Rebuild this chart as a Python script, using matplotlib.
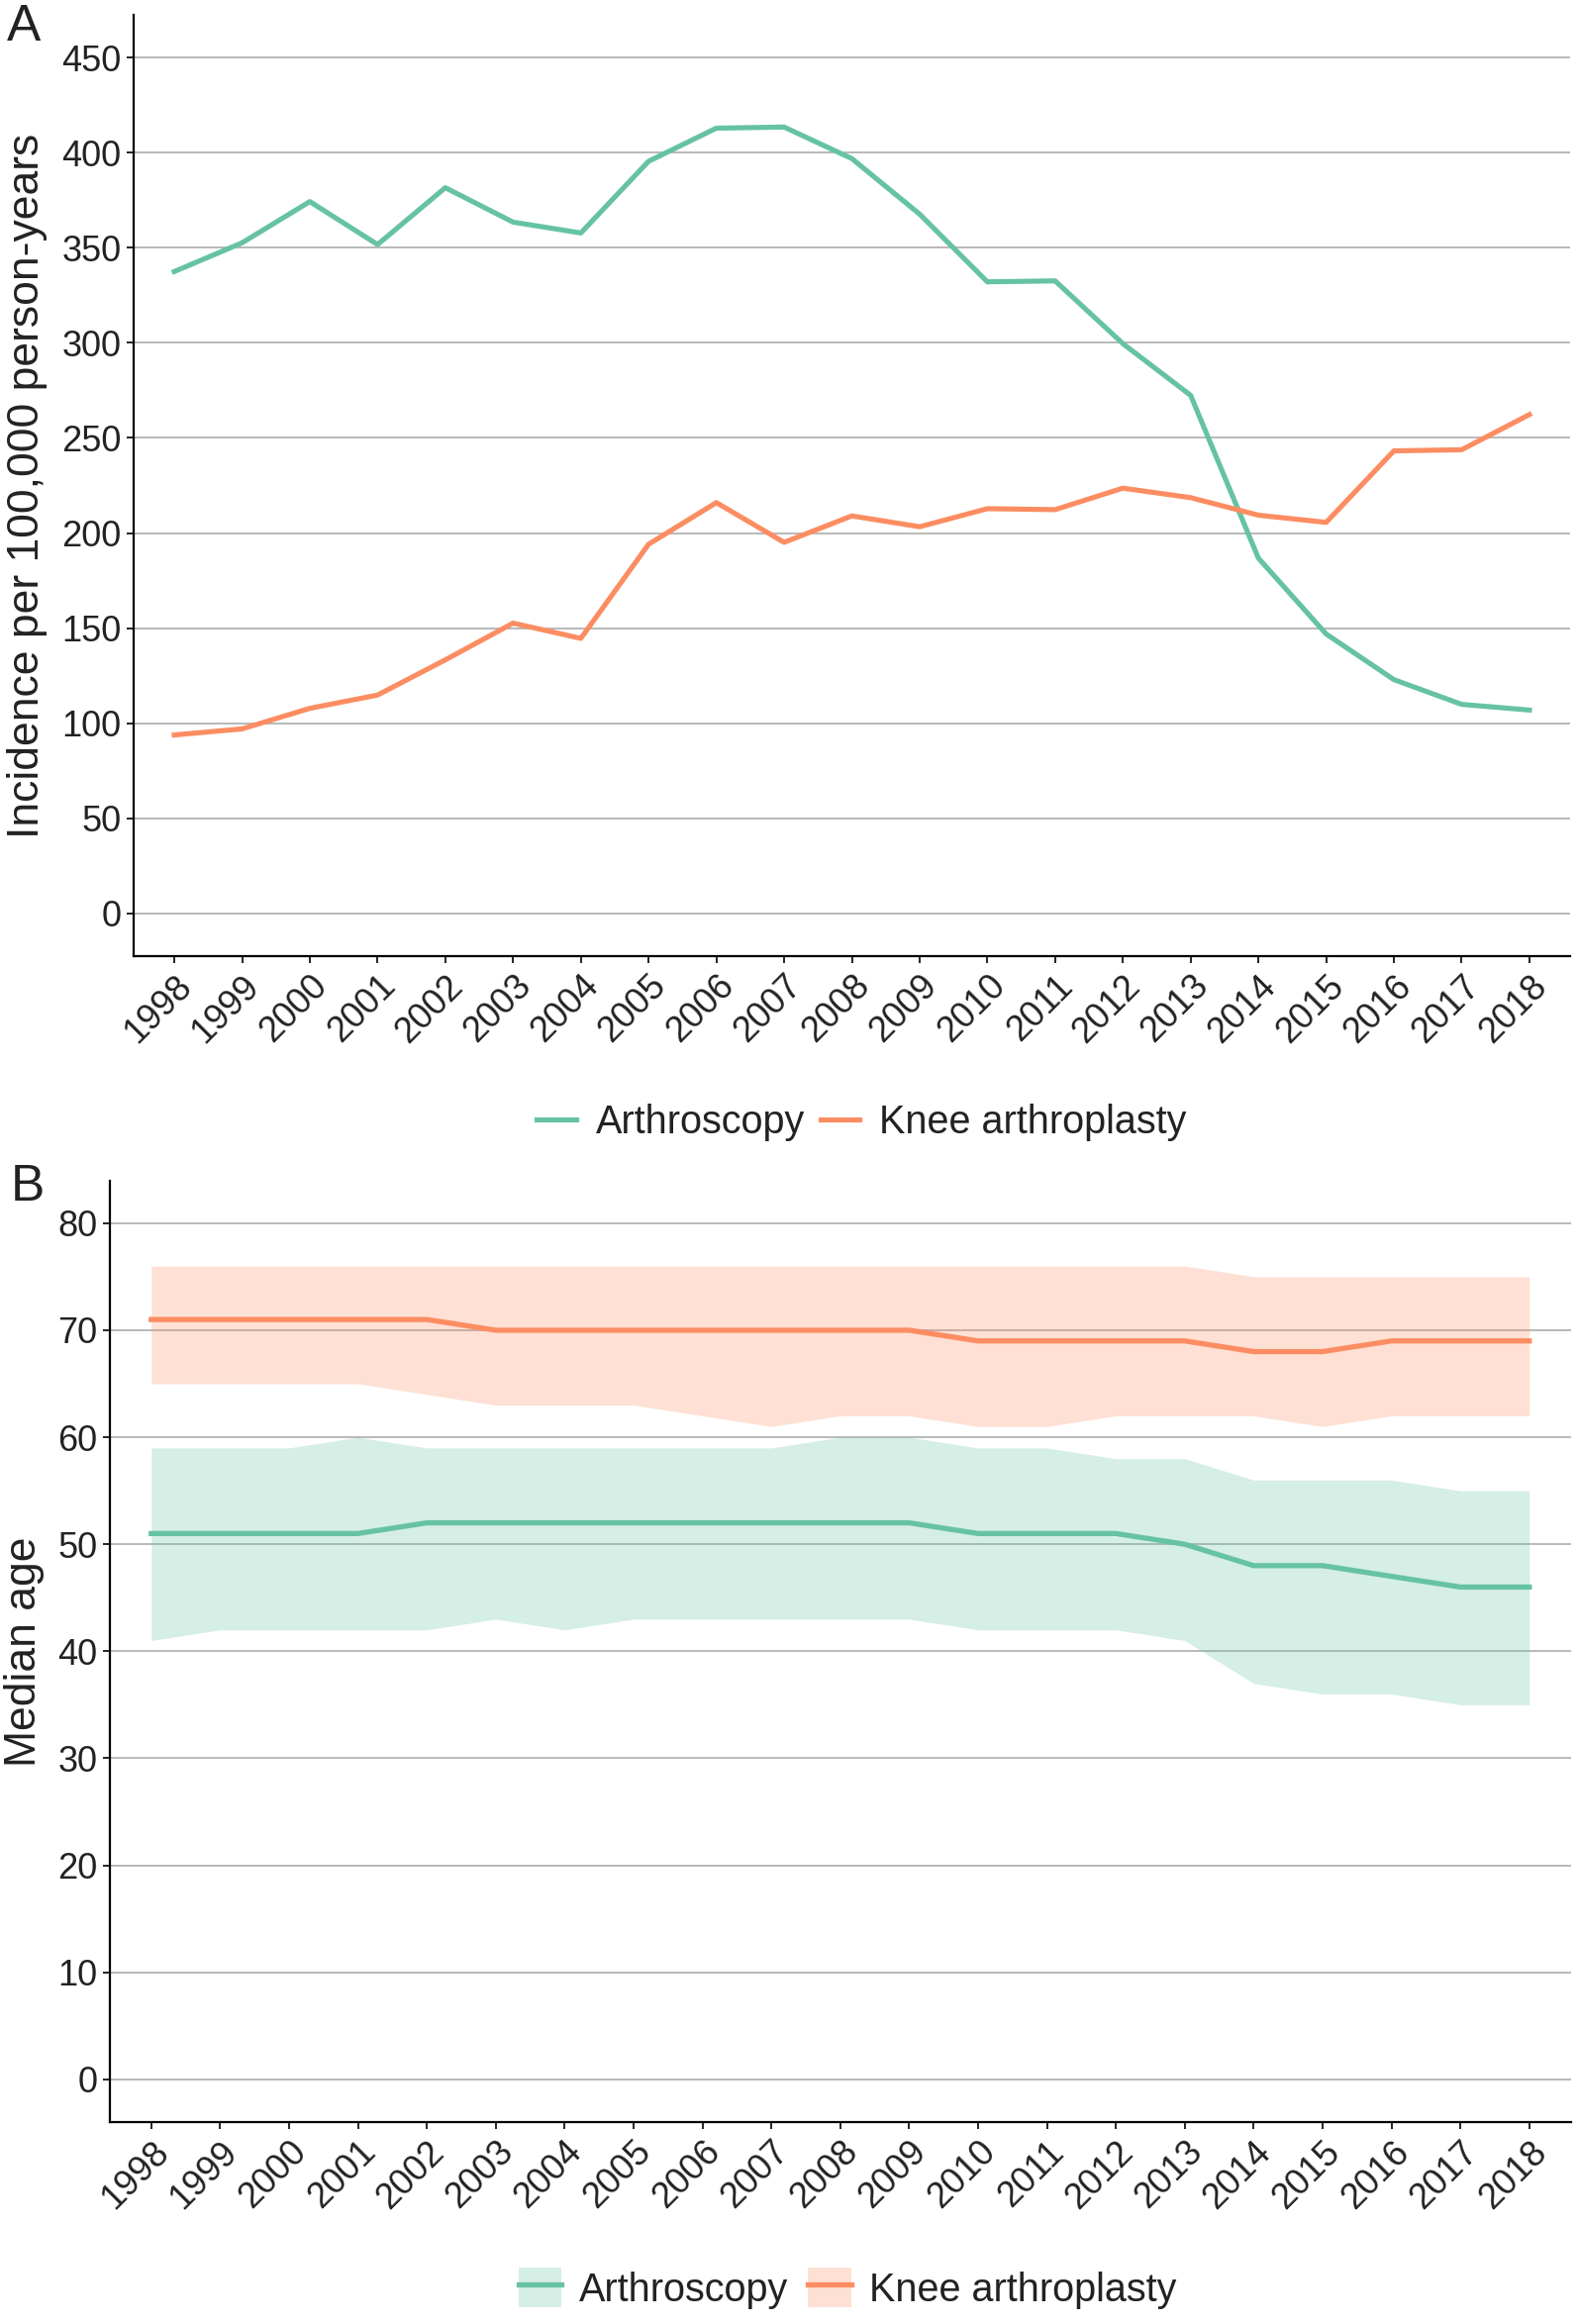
import matplotlib
matplotlib.use('Agg')
import matplotlib.pyplot as plt
from matplotlib.lines import Line2D
from matplotlib.patches import Patch

plt.rcParams['font.family'] = ['Liberation Sans', 'DejaVu Sans']

years = list(range(1998, 2019))

# Panel A: incidence per 100,000 person-years
arthroscopy_inc = [337.5, 352.6, 374.3, 351.7, 381.6, 363.5, 357.8, 395.5, 412.9, 413.5,
                   396.9, 367.7, 332.1, 332.6, 299.6, 272.4, 186.8, 146.9, 122.9, 109.9, 106.9]
knee_inc = [93.8, 97.0, 107.8, 114.8, 133.3, 152.6, 144.6, 194.1, 216.0, 195.1,
            209.0, 203.3, 212.8, 212.3, 223.6, 218.6, 209.4, 205.6, 243.2, 243.8, 262.3]

# Panel B: median age with interquartile band
arth_median = [51, 51, 51, 51, 52, 52, 52, 52, 52, 52, 52, 52, 51, 51, 51, 50, 48, 48, 47, 46, 46]
arth_q1 = [41, 42, 42, 42, 42, 43, 42, 43, 43, 43, 43, 43, 42, 42, 42, 41, 37, 36, 36, 35, 35]
arth_q3 = [59, 59, 59, 60, 59, 59, 59, 59, 59, 59, 60, 60, 59, 59, 58, 58, 56, 56, 56, 55, 55]
knee_median = [71, 71, 71, 71, 71, 70, 70, 70, 70, 70, 70, 70, 69, 69, 69, 69, 68, 68, 69, 69, 69]
knee_q1 = [65, 65, 65, 65, 64, 63, 63, 63, 62, 61, 62, 62, 61, 61, 62, 62, 62, 61, 62, 62, 62]
knee_q3 = [76, 76, 76, 76, 76, 76, 76, 76, 76, 76, 76, 76, 76, 76, 76, 76, 75, 75, 75, 75, 75]

green = '#66C2A5'
orange = '#FC8D62'
grid_col = '#a6a6a6'
text_col = '#222222'
tick_fs = 26

fig = plt.figure(figsize=(15.94, 23.48), dpi=100)
axA = fig.add_axes([135 / 1594, 1 - 966 / 2348, 1451 / 1594, 951 / 2348])
axB = fig.add_axes([111 / 1594, 1 - 2144 / 2348, 1475.5 / 1594, 951.4 / 2348])


def style(ax):
    for s in ['top', 'right']:
        ax.spines[s].set_visible(False)
    for s in ['left', 'bottom']:
        ax.spines[s].set_linewidth(1.6)
        ax.spines[s].set_color('black')
    ax.yaxis.grid(True, color=grid_col, linewidth=1.1)
    ax.set_axisbelow(True)
    ax.tick_params(axis='both', length=5, width=1.2, color='black',
                   labelsize=tick_fs, labelcolor=text_col, pad=4)
    ax.set_xlim(1997.4, 2018.6)
    ax.set_xticks(years)
    ax.set_xticklabels([str(y) for y in years], rotation=45, ha='right', va='top',
                       rotation_mode='anchor')


# Panel A
axA.plot(years, arthroscopy_inc, color=green, lw=3.7)
axA.plot(years, knee_inc, color=orange, lw=3.7)
style(axA)
axA.set_ylim(-22.5, 472.5)
axA.set_yticks(range(0, 451, 50))
axA.set_ylabel('Incidence per 100,000 person-years', fontsize=32, color=text_col)
axA.yaxis.set_label_coords(-0.06, 0.5)

# Panel B
axB.fill_between(years, arth_q1, arth_q3, color=green, alpha=0.27, lw=0)
axB.fill_between(years, knee_q1, knee_q3, color=orange, alpha=0.27, lw=0)
axB.plot(years, arth_median, color=green, lw=3.8)
axB.plot(years, knee_median, color=orange, lw=3.8)
style(axB)
axB.set_ylim(-4, 84)
axB.set_yticks(range(0, 81, 10))
axB.set_ylabel('Median age', fontsize=32, color=text_col)
axB.yaxis.set_label_coords(-0.045, 0.5)

# panel letters
fig.text(7 / 1594, 1 - 41 / 2348, 'A', fontsize=37, va='baseline', ha='left', color=text_col)
fig.text(11 / 1594, 1 - 1213 / 2348, 'B', fontsize=37, va='baseline', ha='left', color=text_col)

# legends
hA = [Line2D([], [], color=green, lw=3.7), Line2D([], [], color=orange, lw=3.7)]
fig.legend(hA, ['Arthroscopy', 'Knee arthroplasty'], loc='center',
           bbox_to_anchor=(0.546, 1 - 1134 / 2348), ncol=2, frameon=False,
           fontsize=28.5, handlelength=1.0, handletextpad=0.5, columnspacing=0.4,
           borderpad=0, labelcolor=text_col)

hB = [(Patch(facecolor=green, alpha=0.27, lw=0), Line2D([], [], color=green, lw=3.8)),
      (Patch(facecolor=orange, alpha=0.27, lw=0), Line2D([], [], color=orange, lw=3.8))]
fig.legend(hB, ['Arthroscopy', 'Knee arthroplasty'], loc='center',
           bbox_to_anchor=(0.537, 1 - 2312 / 2348), ncol=2, frameon=False,
           fontsize=28.5, handlelength=1.1, handleheight=1.15, handletextpad=0.45,
           columnspacing=0.5, borderpad=0, labelcolor=text_col)

fig.savefig('out.png', dpi=100)
